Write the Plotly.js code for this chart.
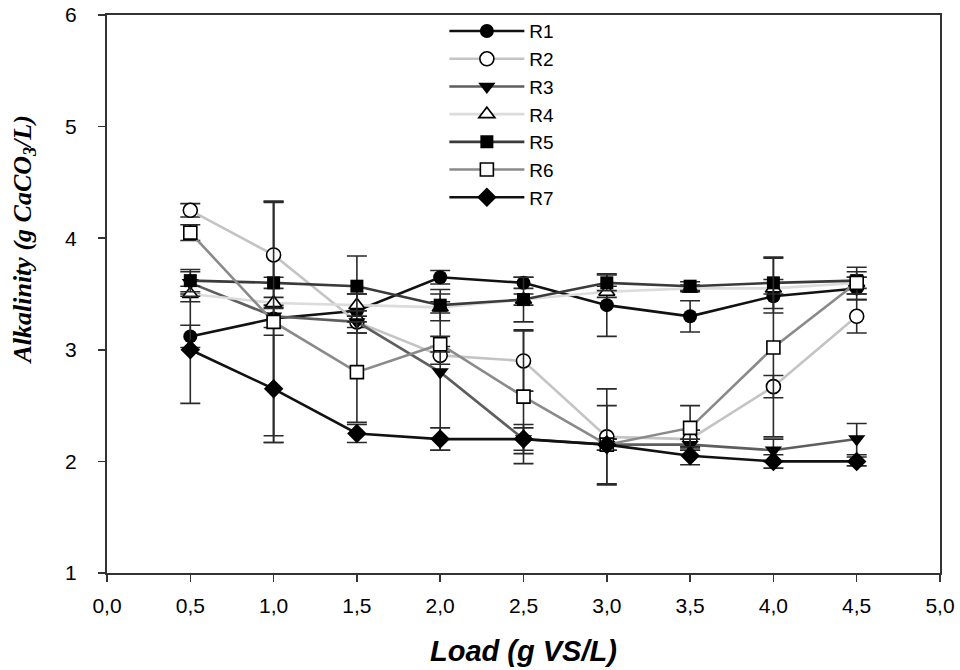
<!DOCTYPE html>
<html>
<head>
<meta charset="utf-8">
<script src="https://cdn.plot.ly/plotly-3.0.1.min.js"></script>
<style>html,body{margin:0;padding:0;background:#fff;}#chart{width:960px;height:670px;}</style>
</head>
<body>
<div id="chart"></div>
<script>
const load = [0.5, 1.0, 1.5, 2.0, 2.5, 3.0, 3.5, 4.0, 4.5];
const seriesNames = ["R1", "R2", "R3", "R4", "R5", "R6", "R7"];
const R1 = [3.12, 3.28, 3.35, 3.65, 3.60, 3.40, 3.30, 3.48, 3.55];
const R2 = [4.25, 3.85, 3.25, 2.95, 2.90, 2.22, 2.20, 2.67, 3.30];
const R3 = [3.60, 3.30, 3.25, 2.80, 2.20, 2.15, 2.15, 2.10, 2.20];
const R4 = [3.50, 3.42, 3.40, 3.38, 3.45, 3.52, 3.55, 3.55, 3.60];
const R5 = [3.62, 3.60, 3.57, 3.40, 3.45, 3.60, 3.57, 3.60, 3.62];
const R6 = [4.05, 3.25, 2.80, 3.05, 2.58, 2.15, 2.30, 3.02, 3.60];
const R7 = [3.00, 2.65, 2.25, 2.20, 2.20, 2.15, 2.05, 2.00, 2.00];
const R1err = [0.10, 1.05, 0.15, 0.06, 0.05, 0.28, 0.14, 0.15, 0.10];
const R2err = [0.06, 0.47, 0.10, 0.08, 0.27, 0.43, 0.08, 0.10, 0.15];
const R3err = [0.10, 0.10, 0.10, 0.70, 0.10, 0.05, 0.05, 0.10, 0.14];
const R4err = [0.07, 0.05, 0.10, 0.05, 0.05, 0.05, 0.03, 0.05, 0.05];
const R5err = [0.10, 0.05, 0.27, 0.14, 0.20, 0.07, 0.04, 0.23, 0.12];
const R6err = [0.07, 1.08, 0.45, 0.07, 0.60, 0.05, 0.20, 0.80, 0.10];
const R7err = [0.48, 0.48, 0.08, 0.10, 0.13, 0.35, 0.08, 0.06, 0.04];
const xTickVals = [0, 0.5, 1, 1.5, 2, 2.5, 3, 3.5, 4, 4.5, 5];
const xTickText = ["0,0", "0,5", "1,0", "1,5", "2,0", "2,5", "3,0", "3,5", "4,0", "4,5", "5,0"];
const yTickVals = [1, 2, 3, 4, 5, 6];
const xTitle = "Load (g VS/L)";
const yTitle = "Alkalinity (g CaCO<sub>3</sub>/L)";

const values = [R1, R2, R3, R4, R5, R6, R7];
const errs = [R1err, R2err, R3err, R4err, R5err, R6err, R7err];
const lineColors = ["#111111", "#c4c4c4", "#5e5e5e", "#dcdcdc", "#3a3a3a", "#8a8a8a", "#111111"];
const symbols = ["circle", "circle-open", "triangle-down", "triangle-up-open", "square", "square-open", "diamond"];
const fills = ["#000000", "#ffffff", "#000000", "#ffffff", "#000000", "#ffffff", "#000000"];
const sizes = [14, 14, 15, 14, 13, 13, 15];

const traces = seriesNames.map((name, i) => {
  const open = symbols[i].endsWith("-open");
  return {
    type: "scatter",
    mode: "lines+markers",
    name: name,
    x: load,
    y: values[i],
    error_y: {type: "data", array: errs[i], visible: true, color: "#2a2a2a", thickness: 1.6, width: 10},
    line: {color: lineColors[i], width: 2.6},
    marker: {
      symbol: open ? symbols[i].replace("-open", "") : symbols[i],
      size: sizes[i],
      color: fills[i],
      line: {color: "#000000", width: open ? 1.6 : 0}
    }
  };
});

const layout = {
  width: 960,
  height: 670,
  margin: {l: 107, r: 20, t: 15, b: 97},
  paper_bgcolor: "#ffffff",
  plot_bgcolor: "#ffffff",
  font: {family: "Liberation Sans, Arial, sans-serif", color: "#000000", size: 21},
  showlegend: true,
  legend: {
    x: 0.405, y: 1.005, xanchor: "left", yanchor: "top",
    bgcolor: "rgba(255,255,255,0)", borderwidth: 0,
    font: {size: 19, family: "Liberation Sans, Arial, sans-serif"},
    itemwidth: 75, tracegroupgap: 0
  },
  xaxis: {
    range: [0, 5],
    tickvals: xTickVals,
    ticktext: xTickText,
    ticks: "outside", ticklen: 7, tickwidth: 1.5, tickcolor: "#333",
    showline: true, linecolor: "#333", linewidth: 2, mirror: true,
    showgrid: false, zeroline: false,
    tickfont: {size: 21},
    ticklabelstandoff: 6
  },
  yaxis: {
    range: [1, 6],
    tickvals: yTickVals,
    ticks: "outside", ticklen: 7, tickwidth: 1.5, tickcolor: "#333",
    showline: true, linecolor: "#333", linewidth: 2, mirror: true,
    showgrid: false, zeroline: false,
    tickfont: {size: 21},
    ticklabelstandoff: 17
  },
  annotations: [
    {text: "<b><i>" + xTitle + "</i></b>", xref: "paper", yref: "paper", x: 0.5, y: -0.14,
     xanchor: "center", yanchor: "middle", showarrow: false,
     font: {size: 29, family: "Liberation Sans, Arial, sans-serif", color: "#000"}},
    {text: "<b><i>" + yTitle + "</i></b>", xref: "paper", yref: "paper", x: -0.1, y: 0.597,
     xanchor: "center", yanchor: "middle", showarrow: false, textangle: -90,
     font: {size: 26, family: "Liberation Serif, Times New Roman, serif", color: "#000"}}
  ]
};

Plotly.newPlot("chart", traces, layout, {displayModeBar: false, staticPlot: true});
</script>
</body>
</html>
